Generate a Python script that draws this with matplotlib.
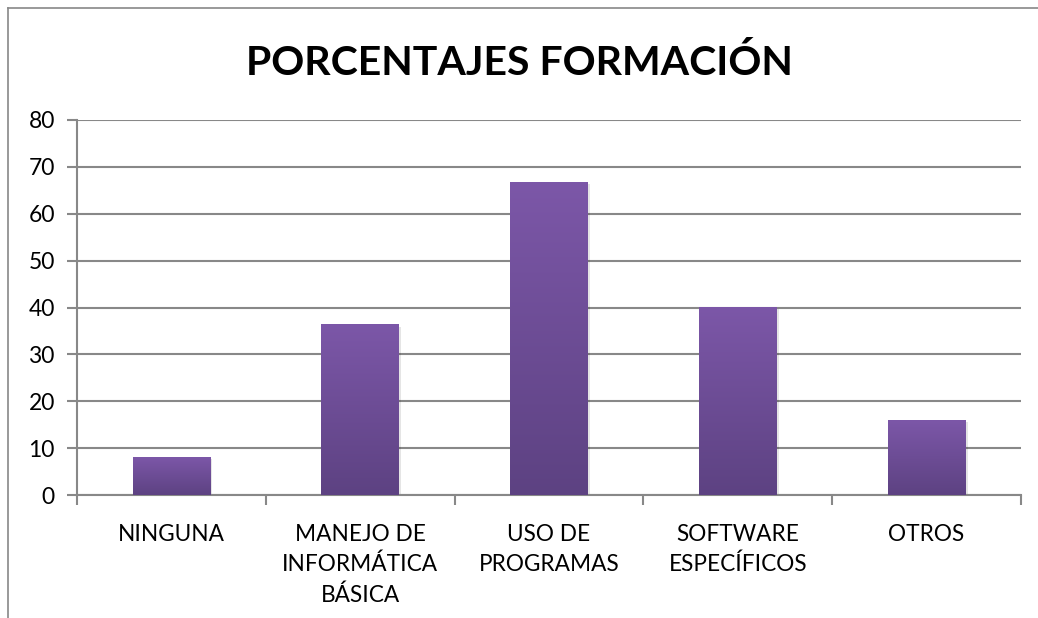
import numpy as np
import matplotlib
matplotlib.use("Agg")
import matplotlib.pyplot as plt
from matplotlib.colors import LinearSegmentedColormap
from matplotlib.lines import Line2D

# data
categorias = ["NINGUNA", "MANEJO DE\nINFORMÁTICA\nBÁSICA", "USO DE\nPROGRAMAS",
              "SOFTWARE\nESPECÍFICOS", "OTROS"]
porcentajes = [8, 36.3, 66.7, 40, 16]
y_ticks = [0, 10, 20, 30, 40, 50, 60, 70, 80]

plt.rcParams['font.family'] = ['Lato', 'DejaVu Sans']

fig = plt.figure(figsize=(10.38, 6.18), dpi=100)
ax = fig.add_axes([77 / 1038, 1 - 495 / 618, (1021 - 77) / 1038, (495 - 120) / 618])

# bar gradient
cmap = LinearSegmentedColormap.from_list("morado", ["#5d4282", "#7c57a8"])
grad = np.linspace(0, 1, 256).reshape(-1, 1)
ancho = 0.41
x = np.arange(len(categorias))
for xi, v in zip(x, porcentajes):
    # soft shadow
    ax.bar(xi + 0.012, v, width=ancho, bottom=-0.4, color="#000000", alpha=0.10, zorder=2)
    ax.imshow(grad, cmap=cmap, origin="lower", aspect="auto",
              extent=[xi - ancho / 2, xi + ancho / 2, 0, v], zorder=3)

ax.set_xlim(-0.5, len(categorias) - 0.5)
ax.set_ylim(0, 80)
ax.set_yticks(y_ticks)
ax.set_xticks(x)
ax.set_xticklabels(categorias, fontsize=16.3, linespacing=1.5)
ax.set_xticks(np.arange(-0.5, len(categorias), 1), minor=True)
ax.tick_params(axis="x", which="major", length=0, pad=21)
ax.tick_params(axis="x", which="minor", length=7, width=1.5, color="#888888")
ax.tick_params(axis="y", length=7, width=1.5, color="#888888", labelsize=16.5, pad=9)

ax.grid(axis="y", color="#888888", linewidth=1.5, zorder=0)
ax.set_axisbelow(True)
for s in ["top", "right"]:
    ax.spines[s].set_visible(False)
for s in ["left", "bottom"]:
    ax.spines[s].set_color("#888888")
    ax.spines[s].set_linewidth(1.5)

fig.text(0.5, 1 - 63 / 618, "PORCENTAJES FORMACIÓN", ha="center", va="center",
         fontsize=29.5, fontweight="bold")

# chart frame (only left and top edges visible)
fig.add_artist(Line2D([8 / 1038, 8 / 1038], [0, 1 - 8 / 618], color="#888888",
                      linewidth=1.2, transform=fig.transFigure))
fig.add_artist(Line2D([8 / 1038, 1], [1 - 8 / 618, 1 - 8 / 618], color="#888888",
                      linewidth=1.2, transform=fig.transFigure))

fig.savefig("out.png", dpi=100)
